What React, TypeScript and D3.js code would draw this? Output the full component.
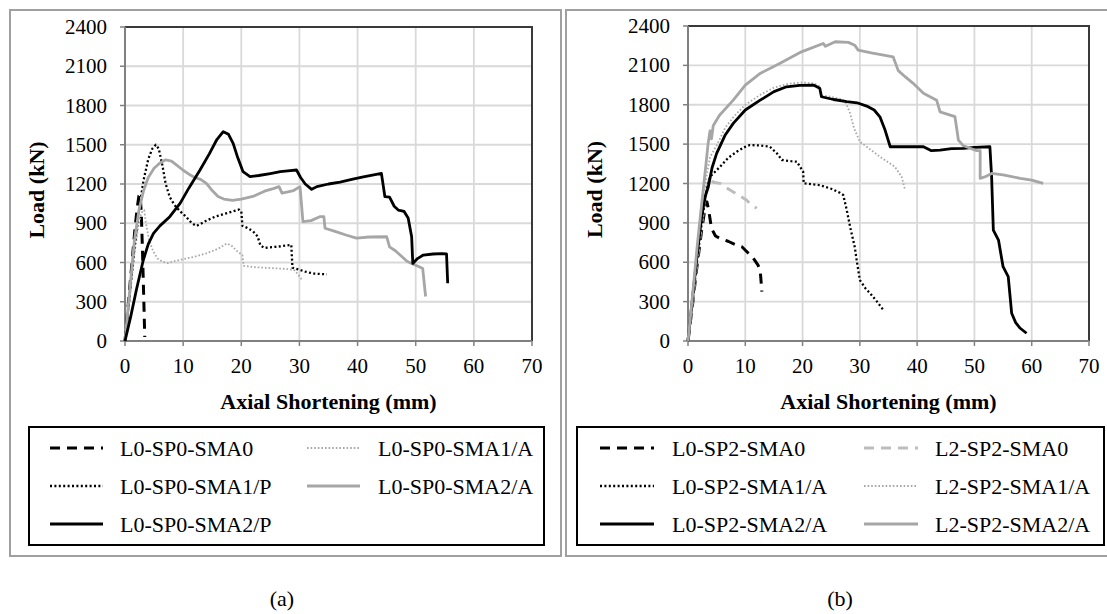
import React from "react";
import * as d3 from "d3";

// ---------- data ----------
const xTicks = [0, 10, 20, 30, 40, 50, 60, 70];
const yTicks = [0, 300, 600, 900, 1200, 1500, 1800, 2100, 2400];

// panel (a)
const L0_SP0_SMA0: [number, number][] = [[0,0],[0.6,300],[1.2,600],[1.7,850],[2.1,1020],[2.4,1110],[2.6,1120],[2.8,980],[3.0,700],[3.15,450],[3.3,200],[3.4,30]];
const L0_SP0_SMA1_A: [number, number][] = [[0,0],[0.8,330],[1.6,660],[2.3,880],[2.8,980],[3.3,1000],[3.6,900],[4.1,780],[4.8,690],[5.6,630],[6.5,605],[7.4,596],[8.5,610],[10,625],[12,645],[14,670],[16,705],[17.5,745],[18.3,730],[19.2,690],[20.2,655],[20.4,575],[22,565],[24,560],[26,555],[28,550],[29.2,540],[30.4,470]];
const L0_SP0_SMA1_P: [number, number][] = [[0,0],[0.8,350],[1.6,700],[2.4,1000],[3.2,1230],[4,1390],[4.7,1470],[5.3,1500],[5.8,1470],[6.4,1350],[7,1200],[7.7,1100],[8.5,1040],[9.5,990],[10.5,950],[11.5,900],[12.3,880],[13,895],[14,920],[15.5,950],[17,970],[18.5,990],[19.6,1005],[20,990],[20.2,880],[21,865],[22,840],[22.8,800],[23.3,730],[24,712],[25.5,718],[27,725],[28.6,735],[28.8,560],[30,545],[31,530],[32.5,515],[34.7,510]];
const L0_SP0_SMA2_A: [number, number][] = [[0,0],[0.8,380],[1.6,760],[2.4,1000],[3.2,1150],[4,1250],[5,1320],[6,1360],[7,1385],[8,1375],[9,1340],[10,1305],[11,1275],[12,1250],[13,1235],[14,1205],[15,1150],[16,1105],[17,1085],[18.5,1075],[20,1085],[22,1105],[24,1145],[25.5,1165],[26.5,1180],[27,1130],[28,1140],[29,1150],[30.1,1180],[30.6,912],[32,920],[33.5,950],[34.2,950],[34.4,862],[36,840],[38,810],[39.8,787],[42,795],[45,797],[45.5,720],[46.5,690],[47.5,650],[48.5,610],[49.3,593],[50.5,570],[51.2,555],[51.7,340]];
const L0_SP0_SMA2_P: [number, number][] = [[0,0],[1,190],[2,400],[3.15,619],[4,740],[4.9,823],[6,880],[7.7,950],[9.5,1054],[11,1170],[12.9,1307],[14.5,1430],[15.8,1540],[16.9,1600],[17.8,1580],[18.6,1510],[19.4,1400],[20.3,1294],[21.5,1256],[23,1265],[25,1280],[26.7,1294],[28,1300],[29.5,1307],[30.2,1250],[31,1200],[32.1,1159],[33,1180],[35,1200],[37,1215],[39,1235],[41,1255],[43,1272],[44.1,1281],[44.7,1103],[45.5,1100],[46.3,1030],[47,1001],[48,990],[48.7,940],[49.3,797],[49.5,593],[50.3,630],[51.3,657],[53,665],[54.5,668],[55.3,665],[55.5,441]];

// panel (b)
const L0_SP2_SMA0: [number, number][] = [[0,0],[0.8,280],[1.6,580],[2.4,850],[3,1020],[3.3,1060],[3.6,1000],[4.1,858],[4.8,800],[5.6,782],[7,760],[8.5,730],[9.4,718],[10.5,670],[11.4,630],[12.2,580],[12.6,541],[12.9,376]];
const L2_SP2_SMA0: [number, number][] = [[0,0],[0.8,300],[1.6,620],[2.4,900],[3.1,1130],[3.8,1250],[4.4,1210],[5.6,1201],[7,1160],[8.5,1120],[10.2,1074],[11,1040],[12,1011]];
const L0_SP2_SMA1_A: [number, number][] = [[0,0],[0.8,300],[1.6,620],[2.4,900],[3.1,1120],[3.84,1251],[5.6,1328],[7,1395],[8.5,1442],[10,1480],[10.8,1493],[12.5,1490],[14.3,1480],[15.5,1430],[16.4,1379],[18,1370],[19,1366],[20.1,1290],[20.2,1201],[21.5,1195],[23,1188],[25,1160],[26.5,1130],[27.1,1112],[27.7,1000],[28.3,870],[29.1,718],[29.5,600],[30,464],[31,400],[31.8,363],[33,300],[34.1,236]];
const L2_SP2_SMA1_A: [number, number][] = [[0,0],[0.8,330],[1.6,670],[2.4,980],[3.2,1250],[3.84,1400],[5,1490],[6.5,1625],[8,1710],[10,1800],[12.6,1875],[15,1930],[17.5,1960],[20,1970],[22,1962],[23,1940],[23.4,1870],[25,1860],[27,1840],[27.6,1810],[28.3,1735],[29,1620],[30,1518],[31.5,1470],[33.5,1404],[36.1,1328],[37.3,1251],[37.9,1150]];
const L0_SP2_SMA2_A: [number, number][] = [[0,0],[0.8,330],[1.6,660],[2.4,950],[3,1100],[3.55,1175],[4.2,1320],[5,1430],[6.5,1570],[7.9,1658],[10,1760],[12.6,1835],[15,1900],[17.2,1937],[19.5,1948],[21.9,1950],[23,1925],[23.3,1861],[25.4,1840],[27.7,1823],[29.5,1815],[31.2,1790],[32.5,1760],[33.5,1708],[34.4,1607],[35.3,1480],[38,1480],[41.1,1480],[42.5,1450],[44,1455],[46,1465],[48.1,1467],[50,1475],[52.7,1480],[53,1251],[53.3,845],[54.2,769],[55,566],[55.9,490],[56.5,211],[57.2,140],[58,97],[59.1,59]];
const L2_SP2_SMA2_A: [number, number][] = [[0,0],[0.8,350],[1.6,720],[2.4,1050],[3.1,1330],[3.5,1500],[3.84,1600],[4.1,1540],[4.4,1640],[5.5,1720],[7.9,1835],[10,1950],[12.6,2039],[16,2115],[19.8,2203],[23.6,2267],[24,2245],[25.7,2280],[28,2275],[29.1,2254],[29.7,2216],[32,2195],[35.8,2165],[36.7,2060],[38,2010],[39.3,1963],[41.1,1887],[43.4,1835],[44,1746],[46.6,1709],[47.2,1531],[48,1490],[50.4,1450],[51,1450],[51,1239],[51.8,1250],[53,1277],[55,1265],[58,1239],[60,1225],[62,1201]];

// ---------- styles ----------
type Style = { stroke: string; width: number; dash?: string };
const STY: Record<string, Style> = {
  blackDash: { stroke: "#000", width: 3, dash: "10 7" },
  blackDot: { stroke: "#000", width: 2.3, dash: "2 2.4" },
  grayDot: { stroke: "#a8a8a8", width: 1.8, dash: "1.6 2" },
  graySolid: { stroke: "#a6a6a6", width: 2.8 },
  blackSolid: { stroke: "#000", width: 2.8 },
  grayDash: { stroke: "#bdbdbd", width: 3, dash: "10 7" },
};

type Series = { name: string; data: [number, number][]; style: string };

const seriesA: Series[] = [
  { name: "L0-SP0-SMA0", data: L0_SP0_SMA0, style: "blackDash" },
  { name: "L0-SP0-SMA1/A", data: L0_SP0_SMA1_A, style: "grayDot" },
  { name: "L0-SP0-SMA1/P", data: L0_SP0_SMA1_P, style: "blackDot" },
  { name: "L0-SP0-SMA2/A", data: L0_SP0_SMA2_A, style: "graySolid" },
  { name: "L0-SP0-SMA2/P", data: L0_SP0_SMA2_P, style: "blackSolid" },
];
const seriesB: Series[] = [
  { name: "L0-SP2-SMA0", data: L0_SP2_SMA0, style: "blackDash" },
  { name: "L2-SP2-SMA0", data: L2_SP2_SMA0, style: "grayDash" },
  { name: "L0-SP2-SMA1/A", data: L0_SP2_SMA1_A, style: "blackDot" },
  { name: "L2-SP2-SMA1/A", data: L2_SP2_SMA1_A, style: "grayDot" },
  { name: "L0-SP2-SMA2/A", data: L0_SP2_SMA2_A, style: "blackSolid" },
  { name: "L2-SP2-SMA2/A", data: L2_SP2_SMA2_A, style: "graySolid" },
];

const FONT = "'Liberation Serif', 'Times New Roman', serif";

type Layout = {
  frame: { x: number; y: number; w: number; h: number };
  plot: { l: number; r: number; t: number; b: number };
  yLabelX: number;
  legend: { x: number; y: number; w: number; h: number };
  colLine: number[];
  lineLen: number;
  colText: number[];
  rows: number[];
  caption: string;
  captionX: number;
};

const layoutA: Layout = {
  frame: { x: 10, y: 10, w: 551, h: 546 },
  plot: { l: 125, r: 532, t: 27, b: 341 },
  yLabelX: 37,
  legend: { x: 29, y: 427, w: 515, h: 118 },
  colLine: [50, 307],
  lineLen: 53,
  colText: [120, 378],
  rows: [448, 486, 524],
  caption: "(a)",
  captionX: 282,
};
const layoutB: Layout = {
  frame: { x: 566, y: 10, w: 545, h: 546 },
  plot: { l: 688, r: 1089, t: 26, b: 341 },
  yLabelX: 595,
  legend: { x: 577, y: 427, w: 527, h: 118 },
  colLine: [600, 864],
  lineLen: 54,
  colText: [672, 935],
  rows: [448, 486, 524],
  caption: "(b)",
  captionX: 840,
};

function Panel({ L, series }: { L: Layout; series: Series[] }) {
  const x = d3.scaleLinear().domain([0, 70]).range([L.plot.l, L.plot.r]);
  const y = d3.scaleLinear().domain([0, 2400]).range([L.plot.b, L.plot.t]);
  const line = d3.line<[number, number]>().x((d) => x(d[0])).y((d) => y(d[1]));
  const cx = (L.plot.l + L.plot.r) / 2;
  const cy = (L.plot.t + L.plot.b) / 2 + 6;
  return (
    <g>
      <rect x={L.frame.x} y={L.frame.y} width={L.frame.w} height={L.frame.h} fill="#fff" stroke="#a0a0a0" strokeWidth={2} />
      {xTicks.map((t) => (
        <line key={"gx" + t} x1={x(t)} x2={x(t)} y1={L.plot.t} y2={L.plot.b} stroke="#d9d9d9" strokeWidth={1.8} />
      ))}
      {yTicks.map((t) => (
        <line key={"gy" + t} x1={L.plot.l} x2={L.plot.r} y1={y(t)} y2={y(t)} stroke="#d9d9d9" strokeWidth={1.8} />
      ))}
      <path d={`M${L.plot.l},${L.plot.t}H${L.plot.r}V${L.plot.b}`} fill="none" stroke="#3a3a3a" strokeWidth={2} />
      <line x1={L.plot.l} x2={L.plot.r} y1={L.plot.b} y2={L.plot.b} stroke="#808080" strokeWidth={2} />
      <line x1={L.plot.l} x2={L.plot.l} y1={L.plot.t} y2={L.plot.b} stroke="#808080" strokeWidth={2} />
      {xTicks.map((t) => (
        <g key={"tx" + t}>
          <line x1={x(t)} x2={x(t)} y1={L.plot.b} y2={L.plot.b + 5} stroke="#808080" strokeWidth={1.5} />
          <text x={x(t)} y={L.plot.b + 32} textAnchor="middle" fontFamily={FONT} fontSize={21} fill="#000">{t}</text>
        </g>
      ))}
      {yTicks.map((t) => (
        <g key={"ty" + t}>
          <line x1={L.plot.l - 5} x2={L.plot.l} y1={y(t)} y2={y(t)} stroke="#808080" strokeWidth={1.5} />
          <text x={L.plot.l - 18} y={y(t) + 7} textAnchor="end" fontFamily={FONT} fontSize={21} fill="#000">{t}</text>
        </g>
      ))}
      <g>
        {series.map((s) => {
          const st = STY[s.style];
          return (
            <path key={s.name} d={line(s.data) || ""} fill="none" stroke={st.stroke} strokeWidth={st.width}
              strokeDasharray={st.dash} strokeLinejoin="round" />
          );
        })}
      </g>
      <text x={cx} y={409} textAnchor="middle" fontFamily={FONT} fontWeight="bold" fontSize={22}>Axial Shortening (mm)</text>
      <text transform={`translate(${L.yLabelX + 7},${cy}) rotate(-90)`} textAnchor="middle" fontFamily={FONT} fontWeight="bold" fontSize={22}>Load (kN)</text>
      <rect x={L.legend.x} y={L.legend.y} width={L.legend.w} height={L.legend.h} fill="#fff" stroke="#000" strokeWidth={2} />
      {series.map((s, i) => {
        const col = i % 2;
        const row = Math.floor(i / 2);
        const st = STY[s.style];
        const ly = L.rows[row];
        return (
          <g key={"lg" + s.name}>
            <line x1={L.colLine[col]} x2={L.colLine[col] + L.lineLen} y1={ly} y2={ly} stroke={st.stroke}
              strokeWidth={st.width} strokeDasharray={st.dash} />
            <text x={L.colText[col]} y={ly + 8} fontFamily={FONT} fontSize={22} fill="#000">{s.name}</text>
          </g>
        );
      })}
      <text x={L.captionX} y={606} textAnchor="middle" fontFamily={FONT} fontSize={22}>{L.caption}</text>
    </g>
  );
}

export default function App() {
  return (
    <svg width={1107} height={614} style={{ position: "absolute", left: 0, top: 0, background: "#fff" }}>
      <rect width={1107} height={614} fill="#fff" />
      <Panel L={layoutA} series={seriesA} />
      <Panel L={layoutB} series={seriesB} />
    </svg>
  );
}
